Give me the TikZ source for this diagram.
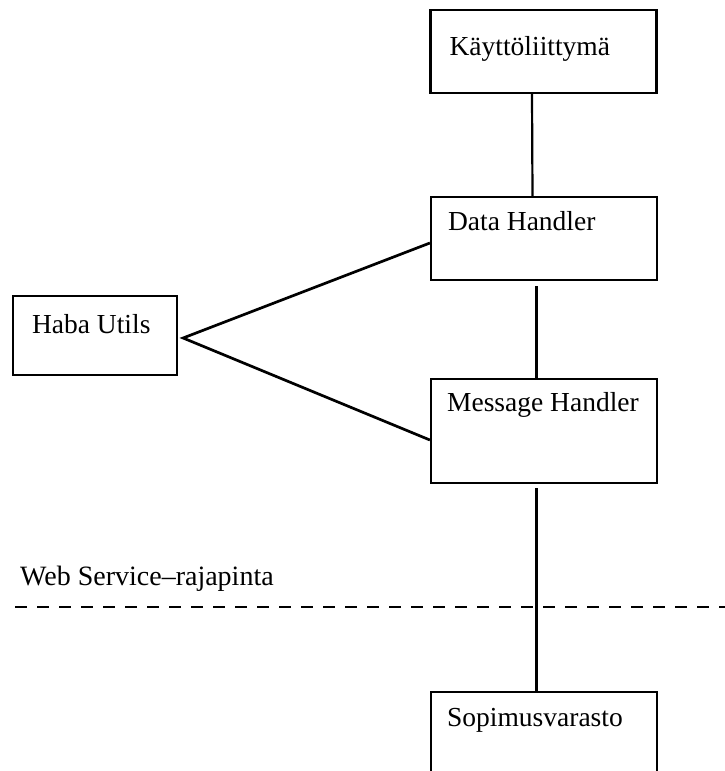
\documentclass[tikz,border=0pt]{standalone}
\usepackage{fontspec}
\setmainfont{Liberation Serif}

\begin{document}
\begin{tikzpicture}[x=1pt, y=-1pt,
		box/.style={draw, line width=2.2pt, inner sep=0pt, minimum width=226pt},
		txt/.style={anchor=base west, inner sep=0pt, font=\fontsize{27.5}{30}\selectfont}]
		\clip (0, 0) rectangle (725, 771);
		% laatikot
		\node[box, minimum height=83pt] (kl) at (543.5, 51.5) {};
		\node[box, minimum height=83pt] (dh) at (544, 238.5) {};
		\node[box, minimum height=104pt] (mh) at (544, 431) {};
		\node[box, minimum height=90pt] (sv) at (544, 737) {};
		\node[box, minimum width=164pt, minimum height=79pt] (hu) at (95, 335.5) {};
		% tekstit
		\node[txt] (klt) at ([xshift=20pt, yshift=-47pt]kl.north west) {Käyttöliittymä};
		\node[txt] (dht) at ([xshift=18pt, yshift=-35pt]dh.north west) {Data Handler};
		\node[txt] (mht) at ([xshift=17pt, yshift=-34pt]mh.north west) {Message Handler};
		\node[txt] (svt) at ([xshift=17pt, yshift=-36pt]sv.north west) {Sopimusvarasto};
		\node[txt] (hut) at ([xshift=20pt, yshift=-39pt]hu.north west) {Haba Utils};
		\node[txt, font=\fontsize{28}{30}\selectfont] (ws) at (20, 585) {Web Service--rajapinta};
		% yhteydet
		\draw[line width=2.2pt] ([xshift=-11.5pt]kl.south) -- ([xshift=-11.5pt]dh.north);
		\draw[line width=2.2pt, shorten <=5pt] ([xshift=-7.5pt]dh.south) -- ([xshift=-7.5pt]mh.north);
		\draw[line width=2.2pt, shorten <=4pt] ([xshift=-7.5pt]mh.south) -- ([xshift=-7.5pt]sv.north);
		\coordinate (apex) at ([xshift=5pt, yshift=-2.5pt]hu.east);
		\draw[line width=2.7pt] ([yshift=-4.5pt]dh.west) -- (apex) -- ([yshift=-9pt]mh.west);
		\draw[line width=2.2pt, dash pattern=on 12pt off 10pt] (15, 607) -- (725, 607);
	\end{tikzpicture}
\end{document}
